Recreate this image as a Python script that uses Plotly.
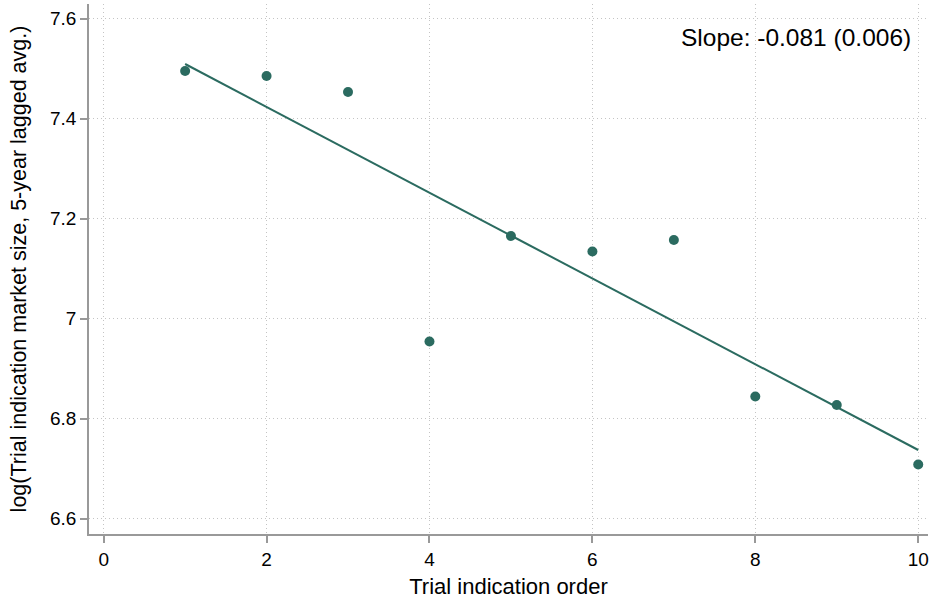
import plotly.graph_objects as go

order = [1, 2, 3, 4, 5, 6, 7, 8, 9, 10]
log_market = [7.495, 7.485, 7.453, 6.954, 7.165, 7.134, 7.157, 6.844, 6.827, 6.708]
fit_x = [1, 10]
fit_y = [7.509, 6.737]
x_ticks = [0, 2, 4, 6, 8, 10]
y_ticks = [6.6, 6.8, 7.0, 7.2, 7.4, 7.6]
y_tick_labels = ["6.6", "6.8", "7", "7.2", "7.4", "7.6"]
slope_text = "Slope: -0.081 (0.006)"

teal = "#2b6b60"
axis_gray = "#999999"
font_family = "Liberation Sans, Arial, Helvetica, sans-serif"

fig = go.Figure()
fig.add_trace(go.Scatter(x=fit_x, y=fit_y, mode="lines",
                         line=dict(color=teal, width=2), showlegend=False, hoverinfo="skip"))
fig.add_trace(go.Scatter(x=order, y=log_market, mode="markers",
                         marker=dict(color=teal, size=10), showlegend=False))

fig.add_annotation(text=slope_text, xref="paper", yref="paper", x=0.982, y=0.936,
                   xanchor="right", yanchor="middle", showarrow=False,
                   font=dict(size=24.5, color="black", family=font_family))

fig.update_layout(
    width=930, height=601,
    margin=dict(l=89, r=2, t=4, b=67),
    paper_bgcolor="white", plot_bgcolor="white",
    font=dict(family=font_family, color="black"),
    xaxis=dict(range=[-0.18, 10.12], tickvals=x_ticks, ticktext=[str(v) for v in x_ticks],
               showline=True, linecolor=axis_gray, linewidth=1.5,
               ticks="outside", ticklen=7, tickcolor=axis_gray, tickwidth=1.5,
               showgrid=True, gridcolor="#c4c4c4", griddash="1px,3px", gridwidth=1,
               zeroline=False, tickfont=dict(size=19),
               title=dict(text="Trial indication order", font=dict(size=22), standoff=10)),
    yaxis=dict(range=[6.569, 7.629], tickvals=y_ticks, ticktext=y_tick_labels,
               showline=True, linecolor=axis_gray, linewidth=1.5,
               ticks="outside", ticklen=7, tickcolor=axis_gray, tickwidth=1.5,
               showgrid=True, gridcolor="#c4c4c4", griddash="1px,3px", gridwidth=1,
               zeroline=False, tickfont=dict(size=19),
               title=dict(text="log(Trial indication market size, 5-year lagged avg.)",
                          font=dict(size=21.5), standoff=18)),
)

fig.write_html("out.html")
